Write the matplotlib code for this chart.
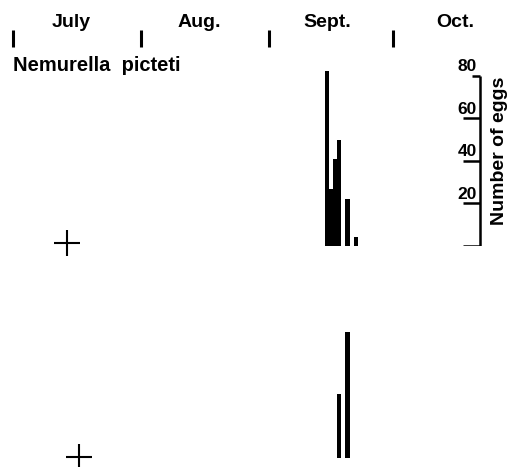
import matplotlib
matplotlib.use("Agg")
import matplotlib.pyplot as plt

plt.rcParams['font.family'] = ['Liberation Sans', 'DejaVu Sans']
plt.rcParams['font.weight'] = 'bold'

# days counted from 1 July
months = ['July', 'Aug.', 'Sept.', 'Oct.']
month_starts = [0, 31, 62, 92]
label_days = [14, 45, 76, 107]

# upper record (eggs per day)
top_days = [76, 77, 78, 79, 81, 83]
top_eggs = [82, 27, 41, 50, 22, 4]
top_start = 13  # + marker day

# lower record
low_days = [79, 81]
low_eggs = [30, 59]
low_start = 16

scale_ticks = [0, 20, 40, 60, 80]

fig = plt.figure(figsize=(5.2, 4.67), dpi=100)
xlim = (-3.15, 122.76)

ax = fig.add_axes([0, 0.4732, 1, 0.5268])
ax.set_xlim(*xlim)
ax.set_ylim(0, 115.5)
ax.axis('off')

ax.bar(top_days, top_eggs, width=1.0, color='black', align='center')
ax.plot([top_start], [1.5], marker='+', markersize=18.5, mew=1.5, color='black', clip_on=False)

# month header
for m, d in zip(months, label_days):
    ax.text(d, 105, m, ha='center', va='center', fontsize=14, fontweight='bold')
for d in month_starts:
    ax.plot([d, d], [93.5, 101.5], color='black', lw=2.2, solid_capstyle='butt')
ax.text(0, 84.8, 'Nemurella  picteti', ha='left', va='center', fontsize=14.5, fontweight='bold')

# egg scale
sx = 113.1
ax.plot([sx, sx], [0, 80], color='black', lw=1.8, solid_capstyle='butt')
for t in scale_ticks:
    x0 = 111.1 if t == 80 else 109.0
    ax.plot([x0, sx], [t, t], color='black', lw=1.8, solid_capstyle='butt')
    if t > 0:
        ax.text(112.3, t + 0.8, str(t), ha='right', va='bottom', fontsize=12.5,
                fontweight='bold', family=['Liberation Sans Narrow', 'Liberation Sans'])
ax.text(117.8, 44.5, 'Number of eggs', rotation=90, ha='center', va='center',
        fontsize=14, fontweight='bold')

ax2 = fig.add_axes([0, 0.01927, 1, 0.424])
ax2.set_xlim(*xlim)
ax2.set_ylim(0, 93)
ax2.axis('off')
ax2.bar(low_days, low_eggs, width=1.0, color='black', align='center')
ax2.plot([low_start], [0.5], marker='+', markersize=18.5, mew=1.5, color='black', clip_on=False)

fig.savefig('out.png', dpi=100)
